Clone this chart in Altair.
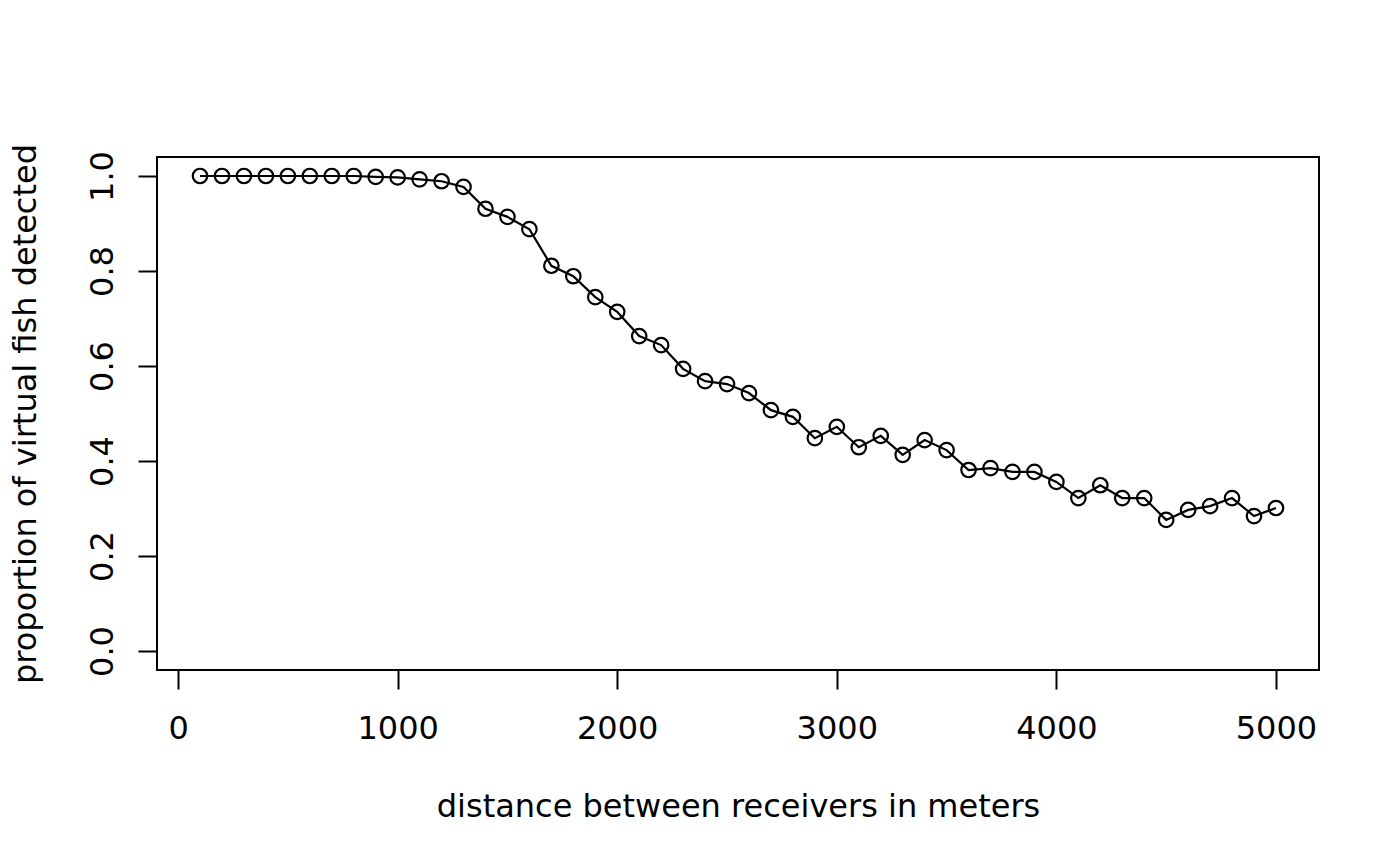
import altair as alt
import pandas as pd

distance = list(range(100, 5001, 100))
proportion = [
    1.000, 1.000, 1.000, 1.000, 1.000, 1.000, 1.000, 1.000, 0.998, 0.997,
    0.993, 0.989, 0.977, 0.931, 0.914, 0.888, 0.811, 0.789, 0.745, 0.714,
    0.663, 0.644, 0.594, 0.568, 0.562, 0.543, 0.507, 0.493, 0.448, 0.472,
    0.429, 0.453, 0.413, 0.444, 0.423, 0.381, 0.385, 0.377, 0.377, 0.356,
    0.322, 0.349, 0.322, 0.322, 0.276, 0.297, 0.305, 0.322, 0.284, 0.301,
]
x_ticks = [0, 1000, 2000, 3000, 4000, 5000]
y_ticks = [0.0, 0.2, 0.4, 0.6, 0.8, 1.0]

df = pd.DataFrame({"distance": distance, "proportion": proportion})

FONT = "DejaVu Sans"
FS = 32

x_enc = alt.X(
    "distance:Q",
    scale=alt.Scale(domain=[-96, 5196], nice=False, zero=False),
    axis=alt.Axis(
        values=x_ticks, format="d", grid=False, domain=False,
        tickSize=19, tickWidth=2, tickColor="black",
        labelPadding=49, labelBaseline="alphabetic", labelAlign="center",
        labelFont=FONT, labelFontSize=FS, labelColor="black",
        labelFlush=False, labelOverlap=False,
        title="distance between receivers in meters",
        titleFont=FONT, titleFontSize=FS, titleFontWeight="normal",
        titleColor="black", titleBaseline="alphabetic", titleAlign="center",
        titleX=581, titleY=146,
    ),
)
y_enc = alt.Y(
    "proportion:Q",
    scale=alt.Scale(domain=[-0.04, 1.04], nice=False, zero=False),
    axis=alt.Axis(
        values=y_ticks, format=".1f", grid=False, domain=False,
        tickSize=19, tickWidth=2, tickColor="black",
        labelPadding=26, labelAngle=270, labelBaseline="alphabetic",
        labelAlign="center",
        labelFont=FONT, labelFontSize=FS, labelColor="black",
        labelFlush=False, labelOverlap=False,
        title="proportion of virtual fish detected",
        titleFont=FONT, titleFontSize=FS, titleFontWeight="normal",
        titleColor="black", titleBaseline="alphabetic", titleAlign="center",
        titleAngle=270, titleX=-122, titleY=256.5,
    ),
)

line = alt.Chart(df).mark_line(color="black", strokeWidth=2.2).encode(x=x_enc, y=y_enc)
pts = alt.Chart(df).mark_point(
    shape="circle", filled=False, color="black", strokeWidth=2.2, size=210, opacity=1
).encode(x="distance:Q", y="proportion:Q")

chart = (
    alt.layer(line, pts)
    .properties(
        width=1162, height=513,
        autosize=alt.AutoSizeParams(type="none"),
        padding={"left": 149, "top": 149, "right": 60, "bottom": 180},
        background="white",
    )
    .configure_view(stroke="black", strokeWidth=2, fill="white")
)

chart.save("out.html", embed_options={"renderer": "svg", "actions": False})
